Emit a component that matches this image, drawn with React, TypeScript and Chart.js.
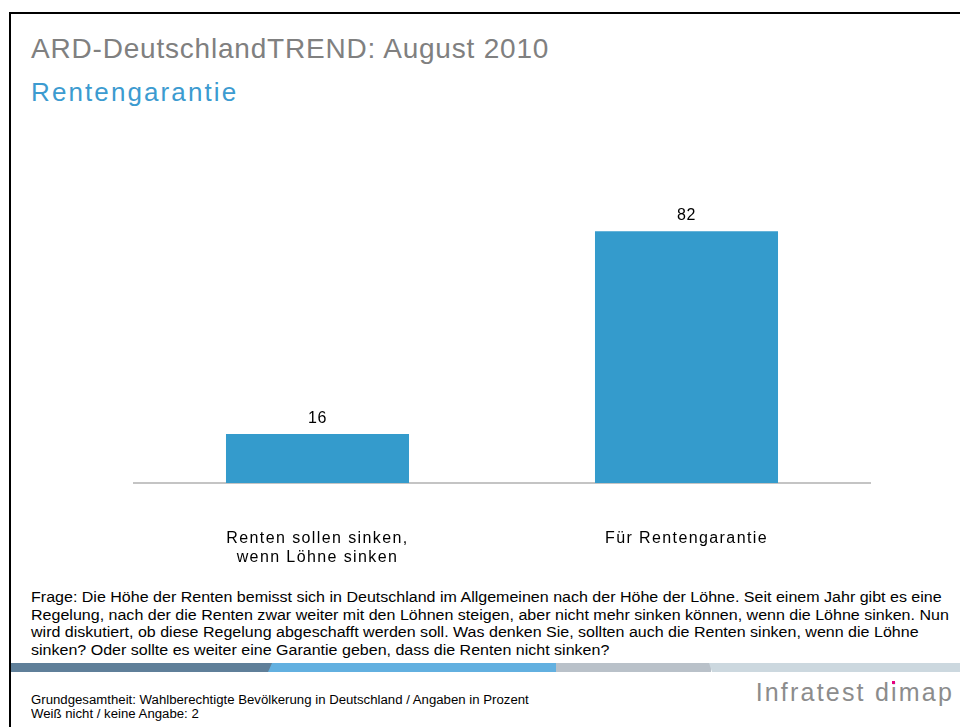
import React, { useEffect, useRef } from "react";
import { Chart, registerables } from "chart.js";

Chart.register(...registerables);

const title = "ARD-DeutschlandTREND: August 2010";
const subtitle = "Rentengarantie";
const categories: (string | string[])[] = [
  ["Renten sollen sinken,", "wenn Löhne sinken"],
  "Für Rentengarantie",
];
const values = [16, 82];
const questionLines = [
  "Frage: Die Höhe der Renten bemisst sich in Deutschland im Allgemeinen nach der Höhe der Löhne. Seit einem Jahr gibt es eine",
  "Regelung, nach der die Renten zwar weiter mit den Löhnen steigen, aber nicht mehr sinken können, wenn die Löhne sinken. Nun",
  "wird diskutiert, ob diese Regelung abgeschafft werden soll. Was denken Sie, sollten auch die Renten sinken, wenn die Löhne",
  "sinken? Oder sollte es weiter eine Garantie geben, dass die Renten nicht sinken?",
];
const footerLines = [
  "Grundgesamtheit: Wahlberechtigte Bevölkerung in Deutschland / Angaben in Prozent",
  "Weiß nicht / keine Angabe: 2",
];
const logoBefore = "Infratest d";
const logoI = "i";
const logoAfter = "map";

const FONT = "Arial, 'Liberation Sans', sans-serif";

const spacing = {
  id: "spacing",
  beforeDraw(chart: any) {
    chart.ctx.letterSpacing = "1.4px";
  },
};

const valueLabels = {
  id: "valueLabels",
  afterDatasetsDraw(chart: any) {
    const ctx = chart.ctx;
    const meta = chart.getDatasetMeta(0);
    ctx.save();
    ctx.letterSpacing = "0.5px";
    ctx.font = `16px ${FONT}`;
    ctx.fillStyle = "#000";
    ctx.textAlign = "center";
    ctx.textBaseline = "middle";
    meta.data.forEach((bar: any, i: number) => {
      ctx.fillText(String(values[i]), bar.x, bar.y - 15.5);
    });
    ctx.restore();
  },
};

export default function App() {
  const ref = useRef<HTMLCanvasElement>(null);
  useEffect(() => {
    const chart = new Chart(ref.current!, {
      type: "bar",
      data: {
        labels: categories,
        datasets: [
          {
            data: values,
            backgroundColor: "#349bcc",
            borderWidth: 0,
            categoryPercentage: 1,
            barPercentage: 0.496,
          },
        ],
      },
      options: {
        animation: false,
        responsive: false,
        maintainAspectRatio: false,
        layout: { padding: 0 },
        plugins: { legend: { display: false }, tooltip: { enabled: false } },
        scales: {
          x: {
            grid: { display: false, drawTicks: false },
            border: { display: true, color: "#c4c4c4", width: 2 },
            ticks: {
              color: "#000",
              font: { family: FONT, size: 16, lineHeight: 1.2 },
              padding: 46,
              maxRotation: 0,
              autoSkip: false,
            },
            afterFit: (s: any) => {
              s.height = 97;
            },
          },
          y: { display: false, min: 0, max: 100 },
        },
      },
      plugins: [spacing, valueLabels],
    });
    return () => chart.destroy();
  }, []);

  const abs = (o: React.CSSProperties): React.CSSProperties => ({ position: "absolute", ...o });

  return (
    <div style={{ position: "fixed", left: 0, top: 0, width: 960, height: 727, background: "#fff", overflow: "hidden", fontFamily: FONT }}>
      {/* frame */}
      <div style={abs({ left: 9, top: 12, width: 951, height: 2, background: "#000" })} />
      <div style={abs({ left: 9, top: 12, width: 2, height: 715, background: "#000" })} />
      {/* titles */}
      <div style={abs({ left: 31, top: 35, fontSize: 28, lineHeight: "28px", color: "#808080", letterSpacing: "0.8px", whiteSpace: "nowrap" })}>{title}</div>
      <div style={abs({ left: 31, top: 79, fontSize: 26, lineHeight: "26px", color: "#3c9bd0", letterSpacing: "2.1px", whiteSpace: "nowrap" })}>{subtitle}</div>
      {/* chart */}
      <canvas ref={ref} width={738} height={404} style={abs({ left: 133, top: 176, width: 738, height: 404 })} />
      {/* question */}
      <div style={abs({ left: 31, top: 589, fontSize: 14, lineHeight: "17.7px", color: "#000", transform: "scaleX(1.145)", transformOrigin: "0 0" })}>
        {questionLines.map((l, i) => (
          <div key={i} style={{ whiteSpace: "nowrap" }}>{l}</div>
        ))}
      </div>
      {/* stripes */}
      <div style={abs({ left: 11, top: 663, width: 262, height: 9, background: "#5f7f99", clipPath: "polygon(0 0, 100% 0, 98.5% 100%, 0 100%)" })} />
      <div style={abs({ left: 268, top: 663, width: 288, height: 9, background: "#62b0e0", clipPath: "polygon(1.4% 0, 100% 0, 100% 100%, 0 100%)" })} />
      <div style={abs({ left: 556, top: 663, width: 155, height: 9, background: "#b9c1c9" })} />
      <div style={abs({ left: 709, top: 663, width: 251, height: 9, background: "#ccd8df", clipPath: "polygon(0 0, 100% 0, 100% 100%, 1.2% 100%)" })} />
      {/* footer */}
      <div style={abs({ left: 31, top: 692.6, fontSize: 12, lineHeight: "14.5px", color: "#000", transform: "scaleX(1.1)", transformOrigin: "0 0" })}>
        {footerLines.map((l, i) => (
          <div key={i} style={{ whiteSpace: "nowrap" }}>{l}</div>
        ))}
      </div>
      <div style={abs({ right: 6, top: 680, fontSize: 25, lineHeight: "25px", color: "#8c8c8c", letterSpacing: "2.2px", whiteSpace: "nowrap", fontFamily: "'Liberation Sans Narrow', 'Arial Narrow', sans-serif" })}>
        {logoBefore}
        <span style={{ position: "relative" }}>
          {logoI}
          <span style={{ position: "absolute", left: 1, top: 3, width: 2.5, height: 3, background: "#e6007e" }} />
        </span>
        {logoAfter}
      </div>
    </div>
  );
}
